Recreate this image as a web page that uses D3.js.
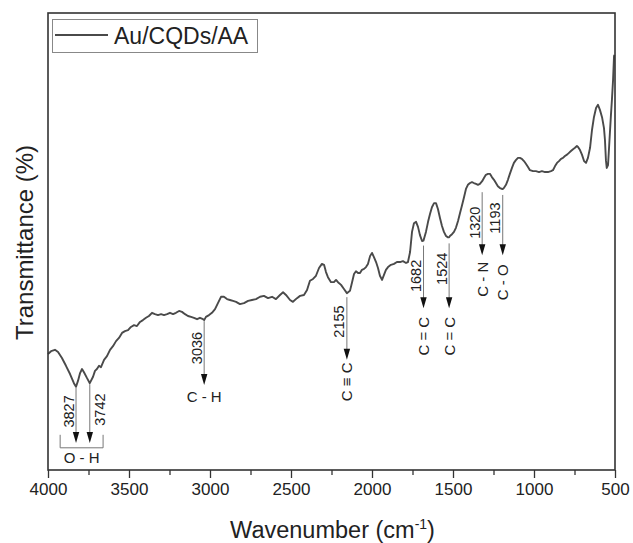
<!DOCTYPE html>
<html>
<head>
<meta charset="utf-8">
<script src="https://cdn.jsdelivr.net/npm/d3@7"></script>
<style>
  html, body { margin: 0; padding: 0; background: #fff; }
  svg { display: block; font-family: "Liberation Sans", Arial, sans-serif; }
</style>
</head>
<body>
<svg id="chart" width="633" height="543"></svg>
<script>
// ---------------- DATA ----------------
const wavenumber = [4000,3981,3957,3938,3914,3889,3864,3840,3827,3815,3802,3790,3778,3759,3742,3722,3710,3698,3685,3673,3654,3636,3617,3599,3580,3562,3543,3525,3506,3488,3469,3451,3432,3414,3395,3377,3358,3340,3321,3302,3284,3265,3247,3228,3210,3191,3173,3154,3136,3117,3099,3080,3062,3043,3036,3025,3006,2988,2969,2951,2932,2914,2895,2877,2858,2839,2815,2790,2765,2741,2716,2691,2667,2642,2617,2593,2568,2549,2531,2506,2488,2463,2444,2420,2401,2383,2364,2346,2327,2309,2296,2284,2272,2253,2235,2222,2210,2191,2173,2155,2136,2123,2111,2099,2086,2074,2062,2049,2037,2025,2012,2000,1988,1975,1963,1951,1938,1926,1914,1901,1883,1864,1846,1827,1809,1790,1778,1765,1753,1741,1728,1716,1704,1691,1682,1667,1654,1642,1630,1617,1605,1593,1580,1568,1556,1543,1531,1524,1519,1506,1494,1482,1469,1457,1445,1432,1420,1408,1395,1383,1371,1358,1346,1334,1320,1309,1297,1284,1272,1260,1247,1235,1223,1210,1198,1193,1186,1173,1161,1149,1136,1124,1112,1099,1087,1075,1062,1050,1037,1025,1006,988,969,951,932,914,895,883,870,858,846,833,821,809,796,784,772,759,747,735,728,716,704,691,679,667,654,642,630,617,605,593,580,568,562,556,551,543,534,525,519,512,506,503];
const transmittance = [25.4,26.0,26.3,25.8,24.5,22.8,21.0,19.0,18.2,19.5,21.2,22.1,21.4,20.1,19.0,20.4,21.7,22.1,22.8,22.5,24.1,24.9,26.3,27.1,28.2,28.9,30.0,30.4,30.6,31.3,31.7,31.5,32.4,32.8,33.3,33.7,34.4,34.1,33.9,34.1,33.9,34.1,34.4,34.1,34.4,34.8,34.6,34.1,33.7,33.5,33.3,33.0,33.3,33.0,32.8,33.5,33.9,34.4,35.2,36.5,37.9,37.9,37.4,37.2,37.0,36.8,36.3,36.5,37.0,37.2,37.4,37.9,38.1,37.6,37.9,37.4,38.3,38.9,38.3,37.2,36.8,37.6,38.1,38.3,39.4,41.4,41.8,42.5,44.2,45.1,44.9,43.3,42.2,41.1,41.1,41.6,41.1,40.5,39.6,38.7,39.2,41.1,42.9,43.5,43.1,43.1,43.8,44.0,44.4,45.1,46.8,47.5,46.6,45.5,44.2,42.5,41.6,42.7,43.8,44.4,44.9,45.1,45.5,45.5,45.7,45.3,45.5,47.7,52.1,54.0,54.3,53.2,51.4,50.1,50.2,52.1,54.3,56.0,57.5,58.4,58.4,57.1,55.1,53.4,52.1,51.2,50.9,50.9,51.2,51.6,52.1,53.0,54.5,56.2,57.8,59.7,61.5,62.4,62.8,63.0,62.8,62.6,62.4,62.6,63.2,63.9,64.6,64.8,64.8,64.1,63.5,62.8,62.1,61.7,61.5,61.5,61.7,62.4,63.5,64.8,66.1,67.2,67.8,68.3,68.3,68.1,67.6,67.0,66.3,65.6,65.4,65.4,65.2,65.4,65.2,65.2,65.4,65.6,66.5,67.2,67.6,68.1,68.3,68.7,69.0,69.4,69.8,70.2,70.5,70.9,70.7,70.0,69.0,67.6,67.2,68.3,70.5,74.4,77.2,79.2,79.9,78.8,77.2,74.8,72.2,67.8,66.1,66.7,72.2,77.7,81.0,85.3,90.6,90.8];

const seriesName = "Au/CQDs/AA";
const xTicks = [4000,3500,3000,2500,2000,1500,1000,500];
const xMinorTicks = [3750,3250,2750,2250,1750,1250,750];

// peak annotations
const peakWn    = [3827, 3742, 3036, 2155, 1682, 1524, 1320, 1193];
const peakLabel = ["3827","3742","3036","2155","1682","1524","1320","1193"];
const bondLabel = ["", "", "C - H", "C \u2261 C", "C = C", "C = C", "C - N", "C - O"];
const groupLabel = "O - H";

// ---------------- LAYOUT ----------------
const W = 633, H = 543;
const m = {left: 48, right: 18, top: 13, bottom: 73};
const svg = d3.select("#chart");
const x = d3.scaleLinear().domain([4000, 500]).range([m.left, W - m.right]);
const y = d3.scaleLinear().domain([0, 100]).range([H - m.bottom, m.top]);
const ink = "#222";
const curveColor = "#4a4a4a";

// curve
const pts = wavenumber.map((w, i) => [w, transmittance[i]]);
svg.append("path")
  .datum(pts)
  .attr("fill", "none")
  .attr("stroke", curveColor)
  .attr("stroke-width", 1.9)
  .attr("stroke-linejoin", "round")
  .attr("d", d3.line().x(d => x(d[0])).y(d => y(d[1])));

// x axis
const xAxis = svg.append("g").attr("transform", `translate(0,${y(0)})`)
  .call(d3.axisBottom(x).tickValues(xTicks).tickSize(8).tickPadding(5).tickFormat(d3.format("d")));
xAxis.select(".domain").remove();
xAxis.selectAll(".tick line").attr("stroke", "#333").attr("stroke-width", 1.3);
xAxis.selectAll(".tick text").attr("font-size", 17).attr("fill", ink)
  .attr("font-family", "Liberation Sans, Arial, sans-serif");
const xMinor = svg.append("g").attr("transform", `translate(0,${y(0)})`)
  .call(d3.axisBottom(x).tickValues(xMinorTicks).tickSize(5).tickFormat(""));
xMinor.select(".domain").remove();
xMinor.selectAll(".tick line").attr("stroke", "#333").attr("stroke-width", 1.3);

// frame
svg.append("rect")
  .attr("x", x(4000)).attr("y", y(100))
  .attr("width", x(500) - x(4000)).attr("height", y(0) - y(100))
  .attr("fill", "none").attr("stroke", "#333").attr("stroke-width", 1.6);

// axis titles
const xt = svg.append("text")
  .attr("x", (x(4000) + x(500)) / 2 + 1).attr("y", 538)
  .attr("text-anchor", "middle").attr("font-size", 23.5).attr("fill", ink);
xt.append("tspan").text("Wavenumber (cm");
xt.append("tspan").attr("dy", -9).attr("font-size", 14).text("-1");
xt.append("tspan").attr("dy", 9).text(")");

svg.append("text")
  .attr("transform", `translate(33,${(y(0) + y(100)) / 2 + 1}) rotate(-90)`)
  .attr("text-anchor", "middle").attr("font-size", 24).attr("fill", ink)
  .text("Transmittance (%)");

// legend
const lg = svg.append("g");
lg.append("rect").attr("x", 52.5).attr("y", 19.5).attr("width", 205).attr("height", 33)
  .attr("fill", "#fff").attr("stroke", "#888").attr("stroke-width", 1);
lg.append("line").attr("x1", 55).attr("x2", 108).attr("y1", 35).attr("y2", 35)
  .attr("stroke", curveColor).attr("stroke-width", 1.8);
lg.append("text").attr("x", 114).attr("y", 44).attr("font-size", 23).attr("fill", ink).text(seriesName);

// annotations
const interp = d3.scaleLinear().domain(wavenumber).range(transmittance);
// per-peak arrow layout: [gap below curve (px), arrow tip level (data units), number label side]
const arrowGap = [1, 1, 1, 4, 5, 6, 11, 6];
const arrowTip = [5.9, 5.9, 18.6, 24.1, 35.4, 35.4, 47.0, 47.0];
const numSide  = [-1, 1, -1, -1, -1, -1, -1, -1];
const numShift = [-4, -4, -5, -7, -1, -7, -1, -7];
const bondGap  = [0, 0, 17, 22, 28, 28, 24, 27];

const ann = svg.append("g");
peakWn.forEach((w, i) => {
  const px = x(w);
  const y0 = y(interp(w)) + arrowGap[i];
  const y1 = y(arrowTip[i]);
  ann.append("line").attr("x1", px).attr("x2", px).attr("y1", y0).attr("y2", y1 - 10)
    .attr("stroke", "#777").attr("stroke-width", 1);
  ann.append("path")
    .attr("d", `M${px - 3.2},${y1 - 11} L${px + 3.2},${y1 - 11} L${px},${y1} Z`)
    .attr("fill", "#111");
  // number label (rotated)
  const cy = (y0 + y1) / 2 + numShift[i];
  const bx = numSide[i] < 0 ? px - 2.5 : px + 15.5;
  ann.append("text")
    .attr("transform", `translate(${bx},${cy}) rotate(-90)`)
    .attr("text-anchor", "middle").attr("font-size", 14.5).attr("fill", ink)
    .text(peakLabel[i]);
  // bond label
  if (bondLabel[i]) {
    if (i === 2) {
      ann.append("text").attr("x", px).attr("y", y1 + bondGap[i])
        .attr("text-anchor", "middle").attr("font-size", 15).attr("fill", ink).text(bondLabel[i]);
    } else {
      ann.append("text")
        .attr("transform", `translate(${px + 5.5},${y1 + bondGap[i]}) rotate(-90)`)
        .attr("text-anchor", "middle").attr("font-size", 15).attr("fill", ink).text(bondLabel[i]);
    }
  }
});
// O-H bracket
const bx0 = x(3925), bx1 = x(3660);
const bTop = y(7.7), bBot = y(7.7) + 13;
ann.append("path")
  .attr("d", `M${bx0},${bTop} L${bx0},${bBot} L${bx1},${bBot} L${bx1},${bTop}`)
  .attr("fill", "none").attr("stroke", "#777").attr("stroke-width", 1);
ann.append("text").attr("x", (bx0 + bx1) / 2).attr("y", bBot + 15)
  .attr("text-anchor", "middle").attr("font-size", 15).attr("fill", ink).text(groupLabel);
</script>
</body>
</html>
